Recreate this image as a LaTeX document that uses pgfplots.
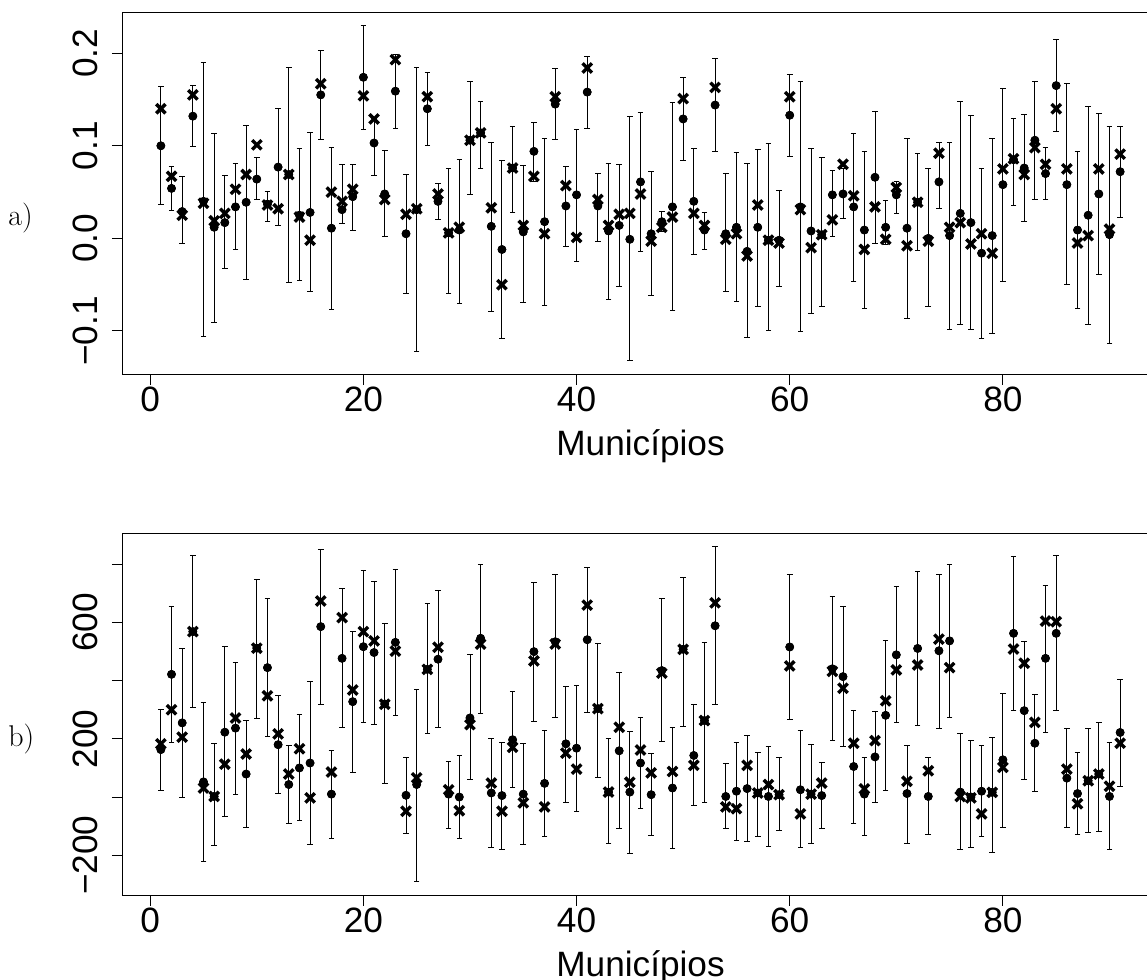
\documentclass[border=0pt]{standalone}
\usepackage{fontspec}
\usepackage{pgfplots}
\pgfplotsset{compat=1.18}
\usepackage{pgfplotstable}
\newfontfamily\arial{Liberation Sans}
\newcommand\axfont{\arial\fontsize{17.6}{21}\selectfont}

\pgfplotstableread{
i c m lo hi
1 0.100 0.140 0.037 0.164
2 0.054 0.067 0.030 0.078
3 0.029 0.025 -0.006 0.067
4 0.132 0.155 0.099 0.165
5 0.040 0.038 -0.106 0.190
6 0.012 0.019 -0.091 0.113
7 0.017 0.027 -0.033 0.068
8 0.034 0.053 -0.012 0.081
9 0.039 0.069 -0.044 0.122
10 0.064 0.101 0.042 0.087
11 0.037 0.036 0.018 0.051
12 0.077 0.032 0.014 0.140
13 0.069 0.069 -0.048 0.185
14 0.025 0.023 -0.045 0.097
15 0.028 -0.002 -0.057 0.114
16 0.155 0.167 0.107 0.203
17 0.011 0.050 -0.077 0.098
18 0.031 0.040 0.016 0.080
19 0.045 0.053 0.009 0.080
20 0.174 0.154 0.118 0.230
21 0.103 0.129 0.068 0.129
22 0.048 0.042 0.002 0.095
23 0.159 0.193 0.119 0.199
24 0.005 0.026 -0.060 0.069
25 0.031 0.032 -0.122 0.185
26 0.140 0.153 0.100 0.179
27 0.040 0.048 0.020 0.059
28 0.006 0.006 -0.059 0.075
29 0.009 0.012 -0.070 0.085
30 0.106 0.106 0.047 0.170
31 0.114 0.114 0.076 0.148
32 0.013 0.033 -0.079 0.104
33 -0.012 -0.050 -0.108 0.084
34 0.076 0.076 0.028 0.121
35 0.007 0.014 -0.069 0.079
36 0.094 0.067 0.061 0.125
37 0.018 0.005 -0.072 0.108
38 0.145 0.153 0.107 0.183
39 0.035 0.057 -0.009 0.078
40 0.047 0.001 -0.025 0.118
41 0.158 0.184 0.119 0.197
42 0.035 0.042 -0.003 0.070
43 0.008 0.014 -0.066 0.081
44 0.014 0.026 -0.052 0.080
45 -0.001 0.027 -0.132 0.132
46 0.061 0.048 -0.014 0.136
47 0.005 -0.003 -0.062 0.072
48 0.018 0.012 0.007 0.029
49 0.034 0.023 -0.078 0.147
50 0.129 0.151 0.084 0.174
51 0.040 0.027 -0.017 0.097
52 0.009 0.014 -0.012 0.028
53 0.144 0.163 0.094 0.194
54 0.005 -0.001 -0.057 0.070
55 0.012 0.005 -0.068 0.093
56 -0.014 -0.019 -0.107 0.081
57 0.012 0.036 -0.073 0.096
58 -0.002 -0.002 -0.099 0.102
59 -0.002 -0.005 -0.052 0.052
60 0.133 0.153 0.089 0.177
61 0.034 0.031 -0.100 0.170
62 0.008 -0.010 -0.081 0.097
63 0.004 0.004 -0.074 0.087
64 0.047 0.020 0.002 0.073
65 0.048 0.080 0.021 0.076
66 0.034 0.046 -0.046 0.113
67 0.009 -0.012 -0.076 0.094
68 0.066 0.034 -0.005 0.137
69 0.012 -0.001 -0.007 0.041
70 0.047 0.055 0.027 0.062
71 0.011 -0.008 -0.086 0.108
72 0.039 0.039 -0.013 0.092
73 0.000 -0.003 -0.073 0.075
74 0.061 0.092 0.032 0.104
75 0.003 0.012 -0.098 0.104
76 0.027 0.017 -0.093 0.148
77 0.017 -0.006 -0.098 0.133
78 -0.016 0.005 -0.108 0.076
79 0.003 -0.016 -0.103 0.108
80 0.058 0.075 -0.046 0.162
81 0.085 0.086 0.036 0.130
82 0.076 0.069 0.018 0.134
83 0.106 0.098 0.042 0.170
84 0.070 0.080 0.042 0.098
85 0.165 0.140 0.115 0.215
86 0.058 0.075 -0.050 0.167
87 0.009 -0.005 -0.076 0.094
88 0.025 0.003 -0.093 0.143
89 0.048 0.075 -0.039 0.135
90 0.004 0.010 -0.114 0.121
91 0.072 0.091 0.023 0.121
}\dataA

\pgfplotstableread{
i c m lo hi
1 163 183 22 302
2 422 300 188 657
3 255 206 0 510
4 569 569 307 830
5 52 31 -221 324
6 2 2 -168 185
7 223 113 -67 517
8 237 272 8 462
9 79 148 -104 263
10 512 512 269 748
11 445 348 207 684
12 180 217 12 351
13 43 79 -92 178
14 100 166 -81 283
15 117 -3 -164 399
16 586 674 319 852
17 10 86 -144 161
18 477 617 240 717
19 328 368 86 569
20 517 569 256 779
21 497 537 251 742
22 320 319 46 596
23 532 502 282 783
24 6 -49 -124 137
25 43 66 -291 370
26 439 439 217 665
27 474 515 238 709
28 10 25 -108 123
29 0 -47 -141 143
30 272 249 60 489
31 546 526 287 799
32 14 48 -175 202
33 5 -49 -181 189
34 197 171 34 362
35 10 -20 -163 183
36 500 468 260 737
37 47 -34 -136 230
38 534 526 274 766
39 183 151 -17 380
40 168 96 -49 383
41 541 660 292 788
42 304 304 66 529
43 17 17 -158 202
44 159 240 -107 427
45 17 51 -193 225
46 117 162 -40 274
47 8 83 -132 150
48 435 426 192 682
49 31 88 -177 239
50 508 508 243 754
51 143 109 -30 317
52 263 263 -17 532
53 589 668 317 862
54 2 -34 -109 114
55 20 -40 -150 189
56 29 109 -152 212
57 14 14 -137 152
58 2 43 -170 174
59 8 8 -115 136
60 516 451 268 767
61 25 -58 -175 228
62 10 10 -158 182
63 5 48 -109 118
64 441 432 193 691
65 414 374 173 657
66 105 185 -91 297
67 10 28 -133 137
68 138 194 -20 294
69 281 331 23 539
70 489 437 256 723
71 12 54 -158 178
72 511 454 246 776
73 2 90 -129 136
74 503 543 237 766
75 537 445 274 800
76 17 2 -180 219
77 0 -3 -172 194
78 20 -58 -137 176
79 16 16 -189 206
80 128 102 -106 357
81 563 509 297 828
82 297 460 60 534
83 185 257 20 352
84 477 605 223 729
85 563 603 297 830
86 65 96 -103 235
87 12 -23 -129 152
88 56 56 -123 235
89 79 79 -120 257
90 2 37 -181 188
91 222 185 37 406
}\dataB

\pgfplotsset{
  mun/.style={
    scale only axis, width=518pt, height=181pt,
    xmin=-2.6, xmax=94.6,
    axis line style={line width=0.5pt, black},
    tick align=outside, major tick length=5.35pt,
    tick style={black, line width=0.5pt},
    xtick pos=bottom, ytick pos=left,
    xtick={0,20,40,60,80},
    xticklabels={0,20,40,60,80},
    tick label style={font=\axfont},
    xticklabel style={anchor=north, inner sep=0pt},
    yticklabel style={rotate=90, anchor=south, inner sep=0pt},
    xticklabel shift=1pt,
    yticklabel shift=6.9pt,
    xlabel={Municípios},
    xlabel style={font=\axfont, at={(axis description cs:0.5,0)}, anchor=base, yshift=-40.5pt},
  },
  bars/.style={only marks, mark=none, forget plot,
    error bars/.cd, y dir=both, y explicit,
    error bar style={line width=0.45pt, black, solid},
    error mark options={rotate=90, line width=0.45pt, mark size=1.4pt, black, solid}},
  dots/.style={only marks, mark=*, mark size=1.9pt,
    mark options={fill=black, draw=black, line width=0.4pt, solid}},
  crosses/.style={only marks, mark=x, mark size=3.3pt,
    mark options={line width=1.7pt, black, solid}},
}

\begin{document}
\begin{tikzpicture}
\begin{axis}[mun, at={(0pt,0pt)}, anchor=north west,
  ymin=-0.1465, ymax=0.2445,
  ytick={-0.1,0,0.1,0.2},
  yticklabels={−0.1,0.0,0.1,0.2}]
\addplot[bars] table[x=i, y=c, y error plus expr=\thisrow{hi}-\thisrow{c}, y error minus expr=\thisrow{c}-\thisrow{lo}] {\dataA};
\addplot[dots] table[x=i, y=c] {\dataA};
\addplot[crosses] table[x=i, y=m] {\dataA};
\end{axis}
\begin{axis}[mun, at={(0pt,-260.5pt)}, anchor=north west,
  ymin=-337, ymax=908,
  ytick={-200,0,200,400,600,800},
  yticklabels={−200,,200,,600,}]
\addplot[bars] table[x=i, y=c, y error plus expr=\thisrow{hi}-\thisrow{c}, y error minus expr=\thisrow{c}-\thisrow{lo}] {\dataB};
\addplot[dots] table[x=i, y=c] {\dataB};
\addplot[crosses] table[x=i, y=m] {\dataB};
\end{axis}
\node[anchor=base west, inner sep=0pt, font=\fontsize{15}{18}\selectfont] at (-57.25pt,-106.5pt) {a)};
\node[anchor=base west, inner sep=0pt, font=\fontsize{15}{18}\selectfont] at (-57.25pt,-367pt) {b)};
\pgfresetboundingbox
\path[use as bounding box] (-61.25pt,6pt) rectangle (512.25pt,-484pt);
\end{tikzpicture}
\end{document}
